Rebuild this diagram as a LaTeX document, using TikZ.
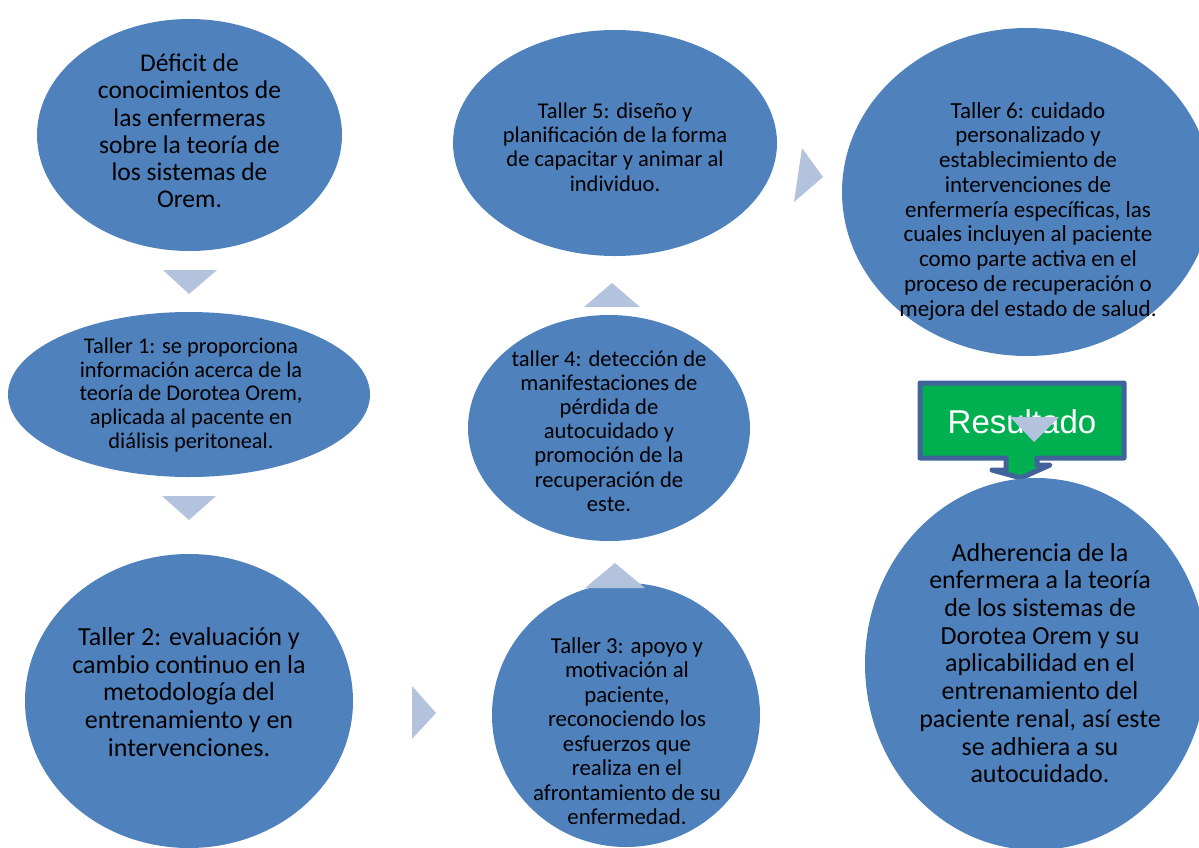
\documentclass[tikz,border=0pt]{standalone}
\usepackage{fontspec}
\setmainfont{Carlito}
\newfontfamily\arialfont{Liberation Sans}
\usetikzlibrary{shapes.geometric}
\definecolor{ovalblue}{HTML}{4F81BD}
\definecolor{chevron}{HTML}{B3C2DD}
\definecolor{resgreen}{HTML}{00B050}
\definecolor{resframe}{HTML}{41639A}
\newcommand{\fs}[2]{\fontsize{#1}{#2}\selectfont}
\begin{document}
\begin{tikzpicture}[x=1pt,y=-1pt,
  oval/.style={ellipse, fill=ovalblue, draw=none, inner sep=0pt},
  ovaltext/.style={align=center, inner sep=0pt, text=black},
  chev/.style={fill=chevron, draw=none}]
\useasboundingbox (0,0) rectangle (1199,847);
\clip (0,0) rectangle (1199,847);

% left column
\node[oval, minimum width=305pt, minimum height=232pt] (e1) at (189.5,135) {};
\node[ovaltext, font=\fs{25.5}{27.2}] (t1) at (189.5,131)
  {Déficit de\\conocimientos de\\las enfermeras\\sobre la teoría de\\los sistemas de\\Orem.};

\node[oval, minimum width=362pt, minimum height=165pt] (e2) at (189,394.5) {};
\node[ovaltext, font=\fs{22.4}{23.75}] (t2) at (191,395)
  {Taller 1: se proporciona\\información acerca de la\\teoría de Dorotea Orem,\\aplicada al pacente en\\diálisis peritoneal.};

\node[oval, minimum width=328pt, minimum height=294pt] (e3) at (189,701) {};
\node[ovaltext, font=\fs{26}{27.7}] (t3) at (189,692)
  {Taller 2: evaluación y\\cambio continuo en la\\metodología del\\entrenamiento y en\\intervenciones.};

% middle column
\node[oval, minimum width=268pt, minimum height=264pt] (e4) at (626,715) {};
\node[ovaltext, font=\fs{22.8}{24.5}] (t4) at (627,731)
  {Taller 3: apoyo y\\motivación al\\paciente,\\reconociendo los\\esfuerzos que\\realiza en el\\afrontamiento de su\\enfermedad.};

\node[oval, minimum width=282pt, minimum height=226pt] (e5) at (609,428) {};
\node[ovaltext, font=\fs{22.6}{24.2}] (t5) at (609,431)
  {taller 4: detección de\\manifestaciones de\\pérdida de\\autocuidado y\\promoción de la\\recuperación de\\este.};

\node[oval, minimum width=324pt, minimum height=226pt] (e6) at (615,143) {};
\node[ovaltext, font=\fs{22.5}{24.3}] (t6) at (615,147)
  {Taller 5: diseño y\\planificación de la forma\\de capacitar y animar al\\individuo.};

% right column
\node[oval, minimum width=370pt, minimum height=328pt] (e7) at (1027,192) {};
\node[ovaltext, font=\fs{23}{24.75}] (t7) at (1028,211)
  {Taller 6: cuidado\\personalizado y\\establecimiento de\\intervenciones de\\enfermería específicas, las\\cuales incluyen al paciente\\como parte activa en el\\proceso de recuperación o\\mejora del estado de salud.};

% result callout
\path[fill=resgreen, draw=resframe, line width=5pt, line join=round]
  (920,383) -- (1124,383) -- (1124,458) -- (1037,458) -- (1037,465)
  -- (1050,465) -- (1021,478) -- (992,470) -- (1006,470) -- (1006,458)
  -- (920,458) -- cycle;
\node[anchor=base, inner sep=0pt, text=white, font=\arialfont\fs{33}{37}] (res) at (1022,433) {Resultado};
\fill[chev] (1010,417) -- (1059,417) -- (1034,442) -- cycle;

\node[oval, minimum width=342pt, minimum height=372pt] (e8) at (1036,664) {};
\node[ovaltext, font=\fs{26}{27.7}] (t8) at (1040,663)
  {Adherencia de la\\enfermera a la teoría\\de los sistemas de\\Dorotea Orem y su\\aplicabilidad en el\\entrenamiento del\\paciente renal, así este\\se adhiera a su\\autocuidado.};

% process chevrons
\fill[chev] (163,270) -- (217,270) -- (189,294) -- cycle;
\fill[chev] (162,496) -- (216,496) -- (189,520) -- cycle;
\fill[chev] (412,686) -- (412,739) -- (436,713) -- cycle;
\fill[chev] (585,588) -- (645,588) -- (615,563) -- cycle;
\fill[chev] (584,307) -- (640,307) -- (612,283) -- cycle;
\fill[chev] (802,148) -- (794,202) -- (823,177) -- cycle;
\end{tikzpicture}
\end{document}
